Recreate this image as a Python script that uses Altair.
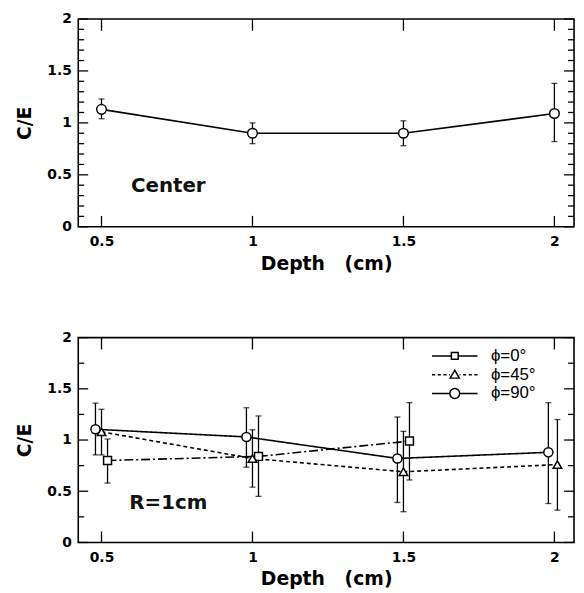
import altair as alt
import pandas as pd

# ---------------- data ----------------
depth_ticks = [0.5, 1.0, 1.5, 2.0]
ce_major = [0.0, 0.5, 1.0, 1.5, 2.0]
ce_minor_top = [0.1, 0.2, 0.3, 0.4, 0.6, 0.7, 0.8, 0.9,
                1.1, 1.2, 1.3, 1.4, 1.6, 1.7, 1.8, 1.9]
ce_minor_bottom = [0.25, 0.75, 1.25, 1.75]

# top panel (Center)
center_depth = [0.5, 1.0, 1.5, 2.0]
center_ce = [1.13, 0.90, 0.90, 1.09]
center_lo = [1.04, 0.80, 0.78, 0.82]
center_hi = [1.23, 1.00, 1.02, 1.38]

# bottom panel (R=1cm)
series_names = ["ϕ=0°", "ϕ=45°", "ϕ=90°"]

phi0_depth = [0.52, 1.02, 1.52]
phi0_ce = [0.80, 0.84, 0.99]
phi0_lo = [0.58, 0.45, 0.61]
phi0_hi = [1.01, 1.235, 1.365]

phi45_depth = [0.50, 1.00, 1.50, 2.01]
phi45_ce = [1.08, 0.82, 0.69, 0.76]
phi45_lo = [0.855, 0.54, 0.30, 0.315]
phi45_hi = [1.30, 1.10, 1.085, 1.20]

phi90_depth = [0.48, 0.98, 1.48, 1.98]
phi90_ce = [1.105, 1.03, 0.82, 0.88]
phi90_lo = [0.855, 0.735, 0.39, 0.38]
phi90_hi = [1.36, 1.315, 1.225, 1.365]

top_label = ["Center"]
bottom_label = ["R=1cm"]

# ---------------- tables ----------------
top_df = pd.DataFrame({"depth": center_depth, "ce": center_ce,
                       "lo": center_lo, "hi": center_hi})


def series_df(name, d, c, lo, hi):
    return pd.DataFrame({"series": name, "depth": d, "ce": c, "lo": lo, "hi": hi})


bot_df = pd.concat([
    series_df(series_names[0], phi0_depth, phi0_ce, phi0_lo, phi0_hi),
    series_df(series_names[1], phi45_depth, phi45_ce, phi45_lo, phi45_hi),
    series_df(series_names[2], phi90_depth, phi90_ce, phi90_lo, phi90_hi),
], ignore_index=True)

# ---------------- styling ----------------
W = 501
H1 = 210
H2 = 207
BOLD = "DejaVu Sans"
xscale = alt.Scale(domain=[0.423, 2.065], nice=False, zero=False)
yscale = alt.Scale(domain=[0, 2], nice=False, zero=False)

xaxis = alt.Axis(values=depth_ticks, format="~g", ticks=False, domain=False, grid=False,
                 labelFont=BOLD, labelFontSize=14, labelFontWeight="bold", labelColor="black",
                 labelPadding=8, title="Depth\u00a0\u00a0\u00a0(cm)", titleFont=BOLD, titleFontSize=19,
                 titleFontWeight="bold", titleColor="black", titlePadding=6)
yaxis = alt.Axis(values=ce_major, format="~g", ticks=False, domain=False, grid=False,
                 labelFont=BOLD, labelFontSize=14, labelFontWeight="bold", labelColor="black",
                 labelPadding=7, title="C/E", titleFont=BOLD, titleFontSize=19,
                 titleFontWeight="bold", titleColor="black", titlePadding=12)


def X(field):
    return alt.X(field, scale=xscale, axis=xaxis)


def Y(field):
    return alt.Y(field, scale=yscale, axis=yaxis)


def tick_layers(minor_vals, H):
    layers = []
    specs = [(ce_major, 0, 10), (minor_vals, 0, 6), (ce_major, W - 10, W), (minor_vals, W - 6, W)]
    for vals, a, b in specs:
        layers.append(
            alt.Chart(pd.DataFrame({"v": vals})).mark_rule(color="black", strokeWidth=1.3).encode(
                y=Y("v:Q"), x=alt.value(a), x2=alt.value(b)))
    for a, b in [(0, 12), (H - 11, H)]:
        layers.append(
            alt.Chart(pd.DataFrame({"v": depth_ticks})).mark_rule(color="black", strokeWidth=1.3).encode(
                x=X("v:Q"), y=alt.value(a), y2=alt.value(b)))
    return layers


def errorbar_layers(df):
    rule = alt.Chart(df).mark_rule(color="black", strokeWidth=1.3).encode(
        x=X("depth:Q"), y=Y("lo:Q"), y2="hi:Q")
    cap_lo = alt.Chart(df).mark_tick(color="black", orient="horizontal", size=6, thickness=1.3).encode(
        x=X("depth:Q"), y=Y("lo:Q"))
    cap_hi = alt.Chart(df).mark_tick(color="black", orient="horizontal", size=6, thickness=1.3).encode(
        x=X("depth:Q"), y=Y("hi:Q"))
    return [rule, cap_lo, cap_hi]


# ---------------- top panel ----------------
top_line = alt.Chart(top_df).mark_line(color="black", strokeWidth=1.7).encode(
    x=X("depth:Q"), y=Y("ce:Q"))
top_pts = alt.Chart(top_df).mark_point(filled=True, fill="white", stroke="black",
                                       strokeWidth=1.5, opacity=1, size=95, shape="circle").encode(
    x=X("depth:Q"), y=Y("ce:Q"))
top_text = alt.Chart(pd.DataFrame({"label": top_label})).mark_text(
    font=BOLD, fontSize=20, fontWeight="bold", color="#111", align="center", baseline="middle").encode(
    text="label:N", x=alt.value(91), y=alt.value(169))

top = alt.layer(top_line, *errorbar_layers(top_df), top_pts, top_text,
                *tick_layers(ce_minor_top, H1)).properties(width=W, height=H1)

# ---------------- bottom panel ----------------
bot_line = alt.Chart(bot_df).mark_line(color="black", strokeWidth=1.6).encode(
    x=X("depth:Q"), y=Y("ce:Q"),
    strokeDash=alt.StrokeDash("series:N", scale=alt.Scale(domain=series_names,
                              range=[[9, 3, 2, 3], [4, 3], [1, 0]]), legend=None),
    order="depth:Q")

bot_pts = alt.Chart(bot_df).mark_point(filled=True, fill="white", stroke="black",
                                       strokeWidth=1.5, opacity=1).encode(
    x=X("depth:Q"), y=Y("ce:Q"),
    shape=alt.Shape("series:N", scale=alt.Scale(domain=series_names,
                    range=["square", "triangle-up", "circle"]), legend=None),
    size=alt.Size("series:N", scale=alt.Scale(domain=series_names, range=[64, 85, 95]), legend=None))

legend_paths = [
    "M-4,0H-0.65M0.65,0H4M-0.6,-0.6H0.6V0.6H-0.6Z",
    "M-4,0H-3.45M-3,0H-2.45M-2,0H-1.45M-1,0H-0.85"
    "M0.85,0H1M1.45,0H2M2.45,0H3M3.45,0H4"
    "M0,-0.8L0.8,0.6H-0.8Z",
    "M-4,0H-0.9M0.9,0H4M-0.87,0A0.87,0.87 0 1,0 0.87,0A0.87,0.87 0 1,0 -0.87,0Z",
]
bot_legend = alt.Chart(bot_df).mark_point(opacity=0).encode(
    x=X("depth:Q"), y=Y("ce:Q"),
    shape=alt.Shape("series:N", scale=alt.Scale(domain=series_names, range=legend_paths),
                    legend=alt.Legend(title=None, orient="none", legendX=372, legendY=10,
                                      symbolSize=132, symbolStrokeWidth=1.5,
                                      symbolStrokeColor="black", symbolFillColor="transparent",
                                      symbolOpacity=1, labelFont="Liberation Sans",
                                      labelFontSize=17, labelColor="black", labelOffset=28,
                                      rowPadding=1, padding=0)))

bot_text = alt.Chart(pd.DataFrame({"label": bottom_label})).mark_text(
    font=BOLD, fontSize=20, fontWeight="bold", color="#111", align="center", baseline="middle").encode(
    text="label:N", x=alt.value(91), y=alt.value(167))

bottom = alt.layer(bot_line, *errorbar_layers(bot_df), bot_pts, bot_legend, bot_text,
                   *tick_layers(ce_minor_bottom, H2)).resolve_scale(
    shape="independent").properties(width=W, height=H2)

chart = alt.vconcat(top, bottom, spacing=56).properties(
    padding={"left": 7, "top": 0, "right": 0, "bottom": 0},
    background="white",
).configure_view(stroke="black", strokeWidth=1.6)

chart.save("out.html", embed_options={"renderer": "svg", "actions": False})
